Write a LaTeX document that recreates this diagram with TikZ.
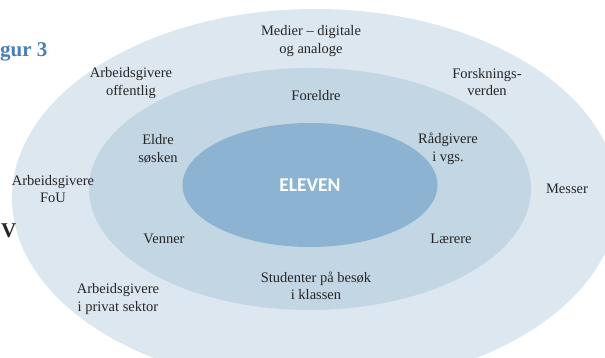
\documentclass[tikz,border=0pt]{standalone}
\usepackage{fontspec}
\setmainfont{Liberation Serif}
\newfontfamily\elevenfont{Carlito}
\usetikzlibrary{shapes.geometric, positioning}
\definecolor{ring_outer}{HTML}{DDE7F0}
\definecolor{ring_middle}{HTML}{C3D6E4}
\definecolor{ring_inner}{HTML}{8CB4D2}
\definecolor{fig_blue}{HTML}{4A7EBB}
\tikzset{
  ring/.style={ellipse,draw=none,inner sep=0pt},
  actor/.style={align=center,text=black!85,font=\fontsize{14.5}{17.5}\selectfont,inner sep=0pt},
  pupil/.style={ring,fill=ring_inner,text=white,font=\elevenfont\bfseries\fontsize{19.5}{22}\selectfont},
  caption/.style={anchor=base west,inner sep=0pt,font=\bfseries\fontsize{21}{24}\selectfont},
}

\begin{document}
\begin{tikzpicture}[x=1pt,y=-1pt]
	    \useasboundingbox (0,0) rectangle (605,358);
	    \node[ring,fill=ring_outer,minimum width=606pt,minimum height=378pt] (outer) at (315,198) {};
	    \node[ring,fill=ring_middle,minimum width=442pt,minimum height=242pt] (middle) at (310,189) {};
	    \node[pupil,minimum width=255pt,minimum height=124pt] (eleven) at (310,185) {ELEVEN};
	    % outer ring
	    \node[actor] (medier) at (311,41) {Medier -- digitale\\og analoge};
	    \node[actor] (offentlig) at (131,83) {Arbeidsgivere\\offentlig};
	    \node[actor] (forskning) at (487,82) {Forsknings-\\verden};
	    \node[actor] (fou) at (53,189) {Arbeidsgivere\\FoU};
	    \node[actor] (messer) at (567,189) {Messer};
	    \node[actor] (privat) at (118,299) {Arbeidsgivere\\i privat sektor};
	    % middle ring
	    \node[actor] (foreldre) at (316,96) {Foreldre};
	    \node[actor] (eldre) at (158,149) {Eldre\\søsken};
	    \node[actor] (raadgivere) at (448,149) {Rådgivere\\i vgs.};
	    \node[actor] (venner) at (164,239) {Venner};
	    \node[actor] (laerere) at (451,239) {Lærere};
	    \node[actor] (studenter) at (316,286) {Studenter på besøk\\i klassen};
	    % cut-off figure text
	    \node[caption,text=fig_blue] (figur) at (0,57) {gur 3};
	    \node[caption,text=black!85] (vtext) at (1,237) {V};
	\end{tikzpicture}
\end{document}
